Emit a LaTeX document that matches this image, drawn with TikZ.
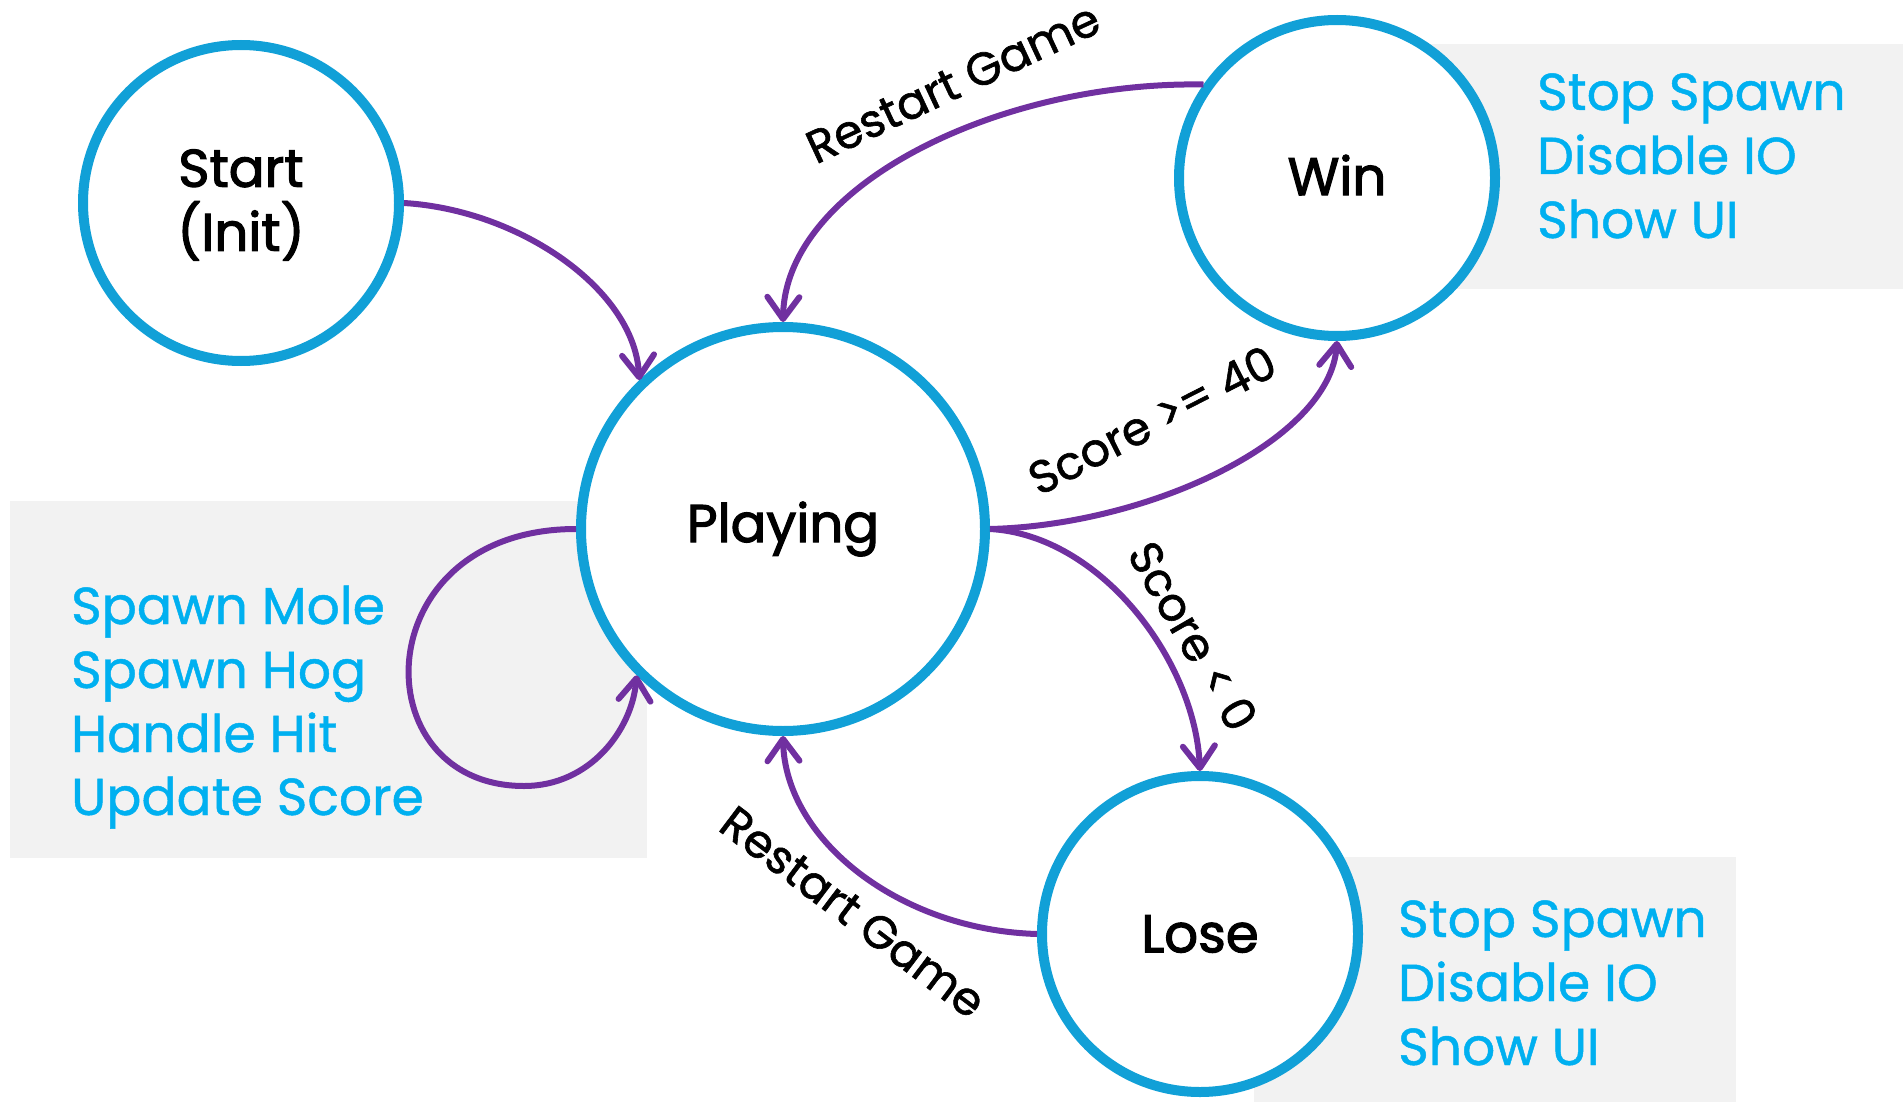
\documentclass[tikz,border=0pt]{standalone}
\usepackage{fontspec}
\setmainfont{Poppins}
\newfontfamily\statefont{Poppins}[FakeBold=2.2]
\newfontfamily\actfont{Poppins}[FakeBold=0.9]
\newfontfamily\edgefont{Poppins}[FakeBold=1.3,RawFeature=+zero]
\usetikzlibrary{arrows.meta}
\definecolor{ringblue}{HTML}{11A0D7}
\definecolor{txtcyan}{HTML}{00B0F0}
\definecolor{edgepurple}{HTML}{7030A0}
\definecolor{boxgray}{HTML}{F2F2F2}
\begin{document}
\begin{tikzpicture}[x=1pt,y=-1pt,
  state/.style={circle,draw=ringblue,line width=10pt,fill=white,inner sep=0pt,
    font=\fontsize{53}{64}\selectfont\statefont,align=center},
  sidebox/.style={fill=boxgray,draw=none},
  action/.style={anchor=base west,inner sep=0pt,text=txtcyan,font=\fontsize{52}{64}\selectfont\actfont},
  trans/.style={draw=edgepurple,line width=6pt,-{Straight Barb[length=22pt,width=32pt,round]}},
  elabel/.style={inner sep=0pt,font=\fontsize{46}{52}\selectfont\edgefont}]
\useasboundingbox (0,0) rectangle (1903,1102);
% side boxes
\path[sidebox] (10,501) rectangle (647,858);
\path[sidebox] (1391,44) rectangle (1903,289);
\path[sidebox] (1254,857) rectangle (1736,1102);
% states
\node[state,minimum size=316pt] (s) at (241,203) {};
\node[state,minimum size=404pt] (p) at (783,529) {Playing};
\node[state,minimum size=316pt] (w) at (1337,178) {};
\node[state,minimum size=316pt] (l) at (1200,934) {Lose};
\node[font=\fontsize{53}{64}\selectfont\statefont,align=center] (sl) at (241,205) {Start\\(Init)};
\node[font=\fontsize{53}{64}\selectfont\statefont] (wl) at (1337,175) {Win};
% actions
\node[action] (a1) at (71,624) {Spawn Mole};
\node[action] (a2) at (71,688) {Spawn Hog};
\node[action] (a3) at (71,752) {Handle Hit};
\node[action] (a4) at (71,815) {Update Score};
\node[action] (b1) at (1537,110) {Stop Spawn};
\node[action] (b2) at (1537,174) {Disable IO};
\node[action] (b3) at (1537,238) {Show UI};
\node[action] (c1) at (1398,937) {Stop Spawn};
\node[action] (c2) at (1398,1001) {Disable IO};
\node[action] (c3) at (1398,1065) {Show UI};
% transitions
\draw[trans] (s.east) .. controls (520,210) and (635,290) .. (p.134);
\draw[trans] (w.145) .. controls (1000,81) and (785,185) .. (p.north);
\draw[trans] (p.east) .. controls (1150,525) and (1330,440) .. (w.south);
\draw[trans] (p.east) .. controls (1100,535) and (1195,660) .. (l.north);
\draw[trans] (l.west) .. controls (900,930) and (785,840) .. (p.south);
\draw[trans] (p.west) .. controls (365,529) and (360,786) .. (524,786)
  .. controls (590,786) and (632,730) .. (p.225);
% labels
\node[elabel,rotate=25] (t1) at (953,83) {Restart Game};
\node[elabel,rotate=27] (t2) at (1152,420) {Score >= 40};
\node[elabel,rotate=-60] (t3) at (1193,636) {Score < 0};
\node[elabel,rotate=-37] (t4) at (853,912) {Restart Game};
\end{tikzpicture}
\end{document}
